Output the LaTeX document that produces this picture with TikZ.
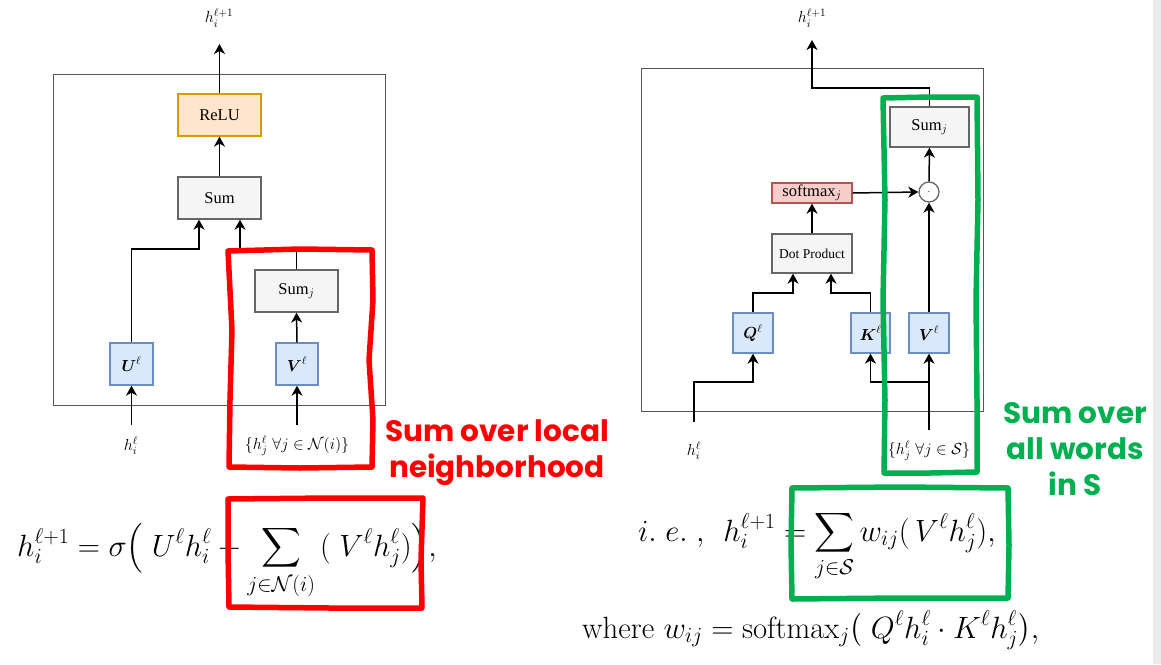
\RequirePackage{fix-cm}
\documentclass[tikz,border=0pt]{standalone}
\usepackage{amsmath}
\usepackage{graphicx}
\usepackage{fontspec}
\newfontfamily\tnr{Liberation Serif}
\newfontfamily\handfont{Poppins}
\usetikzlibrary{arrows.meta,calc}
\newcommand\dlft[2]{\mathopen{\hbox{$\nulldelimiterspace=0pt\left#1\vcenter to #2{}\right.$}}}
\newcommand\drgt[2]{\mathclose{\hbox{$\nulldelimiterspace=0pt\left.\vcenter to #2{}\right#1$}}}
\definecolor{greyfill}{HTML}{F5F5F5}
\definecolor{greyline}{HTML}{666666}
\definecolor{orfill}{HTML}{FFE6CC}
\definecolor{orline}{HTML}{D79B00}
\definecolor{blfill}{HTML}{DAE8FC}
\definecolor{blline}{HTML}{6C8EBF}
\definecolor{rdfill}{HTML}{F8CECC}
\definecolor{rdline}{HTML}{B85450}
\definecolor{framecol}{HTML}{555555}
\definecolor{annred}{HTML}{FF0000}
\definecolor{anngreen}{HTML}{00B050}
\definecolor{strip}{HTML}{EBEBEB}
\tikzset{
  box/.style={draw, line width=1.3pt, inner sep=0pt, anchor=center,
    font=\tnr\fontsize{16.5}{19}\selectfont},
  greybox/.style={box, fill=greyfill, draw=greyline},
  orbox/.style={box, fill=orfill, draw=orline},
  blbox/.style={box, fill=blfill, draw=blline, font=\fontsize{16}{19}\selectfont},
  rdbox/.style={box, fill=rdfill, draw=rdline},
  lbl/.style={inner sep=0pt, font=\fontsize{16}{19}\selectfont},
  arr/.style={line width=1.5pt, -{Stealth[length=10pt,width=11pt,inset=3pt]}},
  frame/.style={draw=framecol, line width=1pt},
  hand/.style={line width=5.5pt, line join=round, line cap=round},
  eq/.style={inner sep=0pt, anchor=base west, font=\fontsize{27.7}{33}\selectfont},
  ann/.style={inner sep=0pt, align=center, font=\handfont\bfseries\fontsize{29.5}{36}\selectfont}
}
\begin{document}
\begin{tikzpicture}[x=1pt,y=-1pt]
\useasboundingbox (0,0) rectangle (1161,664);
\fill[white] (0,0) rectangle (1161,664);
\fill[strip] (1153,0) rectangle (1161,664);

% ---------------- left diagram ----------------
\draw[frame] (53,74) rectangle (385,405);
\node[orbox, minimum width=83pt, minimum height=42pt] (relu) at (219.5,115) {ReLU};
\node[greybox, minimum width=83pt, minimum height=42pt] (sumL) at (219.5,198) {Sum};
\node[greybox, minimum width=83pt, minimum height=42pt] (sumjL) at (296.5,291) {Sum$_j$};
\node[blbox, minimum width=43pt, minimum height=42pt] (UL) at (131.5,364) {$\boldsymbol{U}^{\ell}$};
\node[blbox, minimum width=42pt, minimum height=42pt] (VL) at (297,364) {$\boldsymbol{V}^{\ell}$};
\node[lbl] (outL) at (219,18) {$h_i^{\ell+1}$};
\node[lbl] (inUL) at (131,446) {$h_i^{\ell}$};
\node[lbl] (inVL) at (297,446) {$\{h_j^{\ell}\ \forall j \in \mathcal{N}(i)\}$};
\coordinate (outLc) at (219.5,44);
\coordinate (jL1) at (199,249);
\coordinate (jL2) at (240,249);
\coordinate (uinL) at (131.5,425);
\coordinate (vinL) at (297,425);
\draw[arr] (relu.north) -- (outLc);
\draw[arr] (sumL.north) -- (relu.south);
\draw[arr] (UL.north) |- (jL1) -- (jL1 |- sumL.south);
\draw[arr] (sumjL.north) |- (jL2) -- (jL2 |- sumL.south);
\draw[arr] (VL.north) -- (sumjL.south);
\draw[arr] (uinL) -- (UL.south);
\draw[arr] (vinL) -- (VL.south);

% ---------------- right diagram ----------------
\draw[frame] (641,68) rectangle (983,411);
\node[greybox, minimum width=79pt, minimum height=40pt] (sumjR) at (929.5,127) {Sum$_j$};
\node[draw=greyline, fill=white, line width=1.3pt, circle, minimum size=20pt, inner sep=0pt,
      font=\fontsize{10}{12}\selectfont] (odot) at (929,192) {$\cdot$};
\node[rdbox, minimum width=80pt, minimum height=20pt] (soft) at (812,193) {softmax$_j$};
\node[greybox, minimum width=80pt, minimum height=39pt, font=\tnr\fontsize{13.5}{16}\selectfont] (dotp) at (812,253.5) {Dot Product};
\node[blbox, minimum width=40pt, minimum height=40pt] (Q) at (753,333) {$\boldsymbol{Q}^{\ell}$};
\node[blbox, minimum width=39pt, minimum height=40pt] (K) at (870.5,333) {$\boldsymbol{K}^{\ell}$};
\node[blbox, minimum width=40pt, minimum height=40pt] (VR) at (929,333) {$\boldsymbol{V}^{\ell}$};
\node[lbl] (outR) at (812,18) {$h_i^{\ell+1}$};
\node[lbl] (inQ) at (694,451) {$h_i^{\ell}$};
\node[lbl] (inVR) at (929,451) {$\{h_j^{\ell}\ \forall j \in \mathcal{S}\}$};
\coordinate (cR) at (812,88);
\coordinate (outRc) at (812,40);
\coordinate (qd) at (793,293);
\coordinate (kd) at (831,293);
\coordinate (hin) at (694,422);
\coordinate (qb) at (753,382);
\coordinate (vin) at (929,430);
\coordinate (kb) at (929,382);
\draw[arr] (sumjR.north) |- (cR) -- (outRc);
\draw[arr] (odot.north) -- (sumjR.south);
\draw[arr] (soft.east) -- (odot.west);
\draw[arr] (dotp.north) -- (soft.south);
\draw[arr] (VR.north) -- (odot.south);
\draw[arr] (Q.north) |- (qd) -- (qd |- dotp.south);
\draw[arr] (K.north) |- (kd) -- (kd |- dotp.south);
\draw[arr] (hin) |- (qb) -- (Q.south);
\draw[arr] (vin) -- (VR.south);
\draw[arr] (kb) -| (K.south);

% ---------------- equations ----------------
\node[eq] (eqL) at (17,556) {\scalebox{1.11}{$\displaystyle h_i^{\ell+1} = \sigma\dlft({39pt}\;U^{\ell} h_i^{\ell} + \sum_{j\in\mathcal{N}(i)} \,(\;V^{\ell} h_j^{\ell})\drgt){39pt},$}};
\node[eq] (eqR1) at (638,541) {\scalebox{1.11}{$\displaystyle i.\;e.\;,\;\, h_i^{\ell+1} = \sum_{j\in\mathcal{S}} w_{ij}(\,V^{\ell} h_j^{\ell}),$}};
\node[eq] (eqR2) at (582,638) {\scalebox{1.11}{$\displaystyle \text{where } w_{ij} = \mathrm{softmax}_j\dlft({31.5pt}\;Q^{\ell} h_i^{\ell}\cdot K^{\ell} h_j^{\ell}\drgt){31.5pt},$}};

% ---------------- annotations ----------------
\node[ann, text=annred] (annL) at (497,453) {Sum over local\\neighborhood};
\node[ann, text=anngreen] (annR) at (1075,449) {Sum over\\all words\\in S};

\draw[hand, annred] (228,251) -- (300,249) -- (372,250) -- (373,300) -- (369,360) -- (373,420) -- (372,467) -- (300,468) -- (229,467) -- (230,400) -- (232,330) -- cycle;
\draw[hand, annred] (228,499) -- (330,498) -- (423,498) -- (421,560) -- (422,608) -- (330,608) -- (229,607) -- (228,550) -- cycle;
\draw[hand, anngreen] (883,98) -- (930,97) -- (977,97) -- (978,200) -- (976,300) -- (977,400) -- (977,472) -- (930,473) -- (884,473) -- (885,400) -- (883,300) -- (885,200) -- cycle;
\draw[hand, anngreen] (792,488) -- (900,487) -- (1008,488) -- (1009,545) -- (1008,598) -- (900,598) -- (792,599) -- (791,545) -- cycle;
\end{tikzpicture}
\end{document}
